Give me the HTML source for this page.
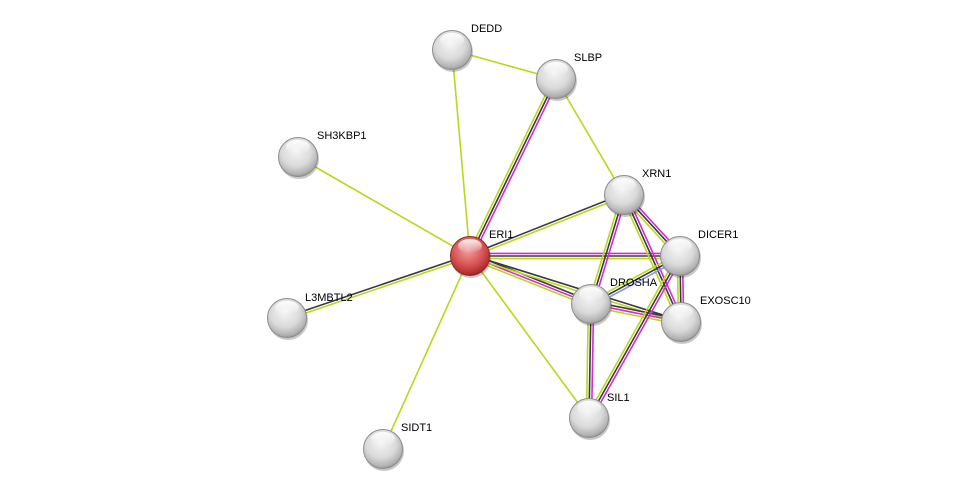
<!DOCTYPE html>
<html><head><meta charset="utf-8"><style>
html,body{margin:0;padding:0;background:#fff;width:975px;height:494px;overflow:hidden}
svg{display:block}
text{font-family:"Liberation Sans",sans-serif;font-size:11px;fill:#000}
</style></head><body>
<svg id="s" width="975" height="494" viewBox="0 0 975 494" xmlns="http://www.w3.org/2000/svg">
<defs>
<radialGradient id="g" cx="0.45" cy="0.35" r="0.7">
<stop offset="0" stop-color="#f4f4f4"/><stop offset="0.55" stop-color="#dadada"/><stop offset="0.85" stop-color="#b0b0b0"/><stop offset="1" stop-color="#808080"/></radialGradient>
<radialGradient id="r" cx="0.45" cy="0.35" r="0.7">
<stop offset="0" stop-color="#f2a0a0"/><stop offset="0.55" stop-color="#d85555"/><stop offset="0.85" stop-color="#b43030"/><stop offset="1" stop-color="#7a1a1a"/></radialGradient>
<linearGradient id="hl" x1="0" y1="0" x2="0" y2="1"><stop offset="0" stop-color="#fff" stop-opacity=".95"/><stop offset="1" stop-color="#fff" stop-opacity="0"/></linearGradient>
</defs>
<g id="edges"></g>
<g id="nodes"></g>
<g>
<text x="471" y="32">DEDD</text>
<text x="574" y="61">SLBP</text>
<text x="317" y="139">SH3KBP1</text>
<text x="642" y="177">XRN1</text>
<text x="489" y="238">ERI1</text>
<text x="698" y="238">DICER1</text>
<text x="610" y="286">DROSHA</text>
<text x="700" y="304">EXOSC10</text>
<text x="305" y="301">L3MBTL2</text>
<text x="607" y="401">SIL1</text>
<text x="401" y="431">SIDT1</text>
</g>
</svg>
<script>
var N={DEDD:[452,50],SLBP:[556,79],SH3KBP1:[298,157],XRN1:[624,195],ERI1:[470,256],DICER1:[680,256],DROSHA:[591,304],EXOSC10:[681,322],L3MBTL2:[287,318],SIL1:[589,418],SIDT1:[383,449]};
var C={m:"#d42ad4",k:"#3a3a3a",y:"#bcd61c",b:"#8890e8"};
var E=[["DEDD","SLBP","y"],["DEDD","ERI1","y"],["SLBP","ERI1","mky"],["SLBP","XRN1","y"],["SH3KBP1","ERI1","y"],["L3MBTL2","ERI1","ky"],["SIDT1","ERI1","y"],["ERI1","XRN1","ky"],["ERI1","DICER1","mky"],["ERI1","DROSHA","kmy"],["ERI1","EXOSC10","ky"],["ERI1","SIL1","y"],["XRN1","DICER1","mky"],["XRN1","DROSHA","mky"],["XRN1","EXOSC10","mky"],["DICER1","EXOSC10","mky"],["DICER1","DROSHA","bky"],["DROSHA","EXOSC10","kmy"],["DICER1","SIL1","mky"],["DROSHA","SIL1","mky"]];
var ns="http://www.w3.org/2000/svg",eg=document.getElementById("edges"),ng=document.getElementById("nodes");
E.forEach(function(e){var a=N[e[0]],b=N[e[1]],dx=b[0]-a[0],dy=b[1]-a[1],L=Math.hypot(dx,dy),px=-dy/L,py=dx/L,n=e[2].length,sp=2.6;
for(var i=0;i<n;i++){var o=(i-(n-1)/2)*sp,l=document.createElementNS(ns,"line");
l.setAttribute("x1",a[0]+px*o);l.setAttribute("y1",a[1]+py*o);l.setAttribute("x2",b[0]+px*o);l.setAttribute("y2",b[1]+py*o);
l.setAttribute("stroke",C[e[2][i]]);l.setAttribute("stroke-width","1.6");eg.appendChild(l);}});
for(var k in N){var p=N[k],g=document.createElementNS(ns,"g");
g.innerHTML='<circle cx="'+(p[0]+1)+'" cy="'+(p[1]+2)+'" r="20" fill="#000" opacity=".22"/>'+
'<circle cx="'+p[0]+'" cy="'+p[1]+'" r="19.5" fill="url(#'+(k=="ERI1"?"r":"g")+')" stroke="'+(k=="ERI1"?"#8a2a2a":"#8c8c8c")+'" stroke-width="1"/>'+
'<ellipse cx="'+p[0]+'" cy="'+(p[1]-10)+'" rx="12" ry="7" fill="url(#hl)"/>';
ng.appendChild(g);}
</script>
</body></html>
